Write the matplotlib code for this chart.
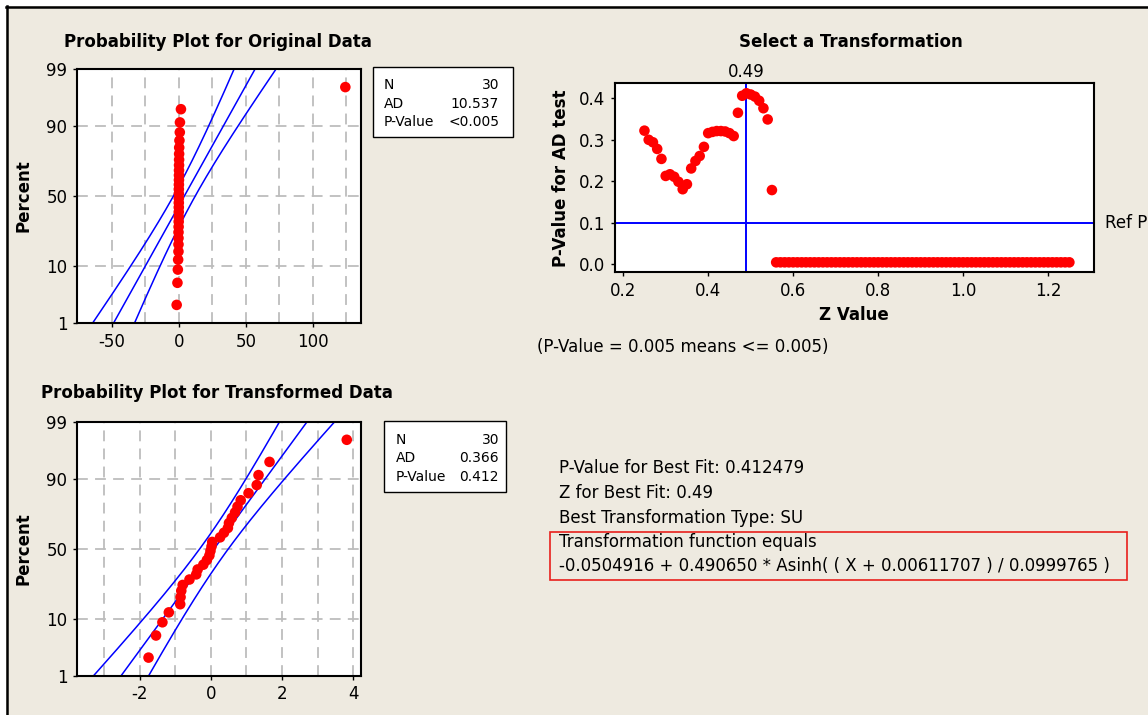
import matplotlib
matplotlib.use('Agg')
import matplotlib.pyplot as plt
import numpy as np
from statistics import NormalDist
from matplotlib.patches import Rectangle
from matplotlib.lines import Line2D

W, H, DPI = 1148, 715, 100

# ---------------- data ----------------
original_data = [-1.60, -1.02, -0.72, -0.50, -0.26, -0.25, -0.25, -0.23, -0.15, -0.09,
                 -0.08, -0.04, -0.02, -0.01, 0.00, 0.00, 0.01, 0.06, 0.10, 0.12,
                 0.14, 0.17, 0.21, 0.24, 0.29, 0.47, 0.74, 0.84, 1.59, 124.3]
transformed_data = [-1.75, -1.54, -1.36, -1.18, -0.86, -0.85, -0.83, -0.79, -0.60, -0.41,
                    -0.37, -0.21, -0.11, -0.04, -0.01, 0.02, 0.04, 0.26, 0.37, 0.48,
                    0.51, 0.59, 0.68, 0.75, 0.84, 1.06, 1.29, 1.34, 1.65, 3.82]

z_values = [0.25, 0.26, 0.27, 0.28, 0.29, 0.30, 0.31, 0.32, 0.33, 0.34,
            0.35, 0.36, 0.37, 0.38, 0.39, 0.40, 0.41, 0.42, 0.43, 0.44,
            0.45, 0.46, 0.47, 0.48, 0.49, 0.50, 0.51, 0.52, 0.53, 0.54,
            0.55, 0.56, 0.57, 0.58, 0.59, 0.60, 0.61, 0.62, 0.63, 0.64,
            0.65, 0.66, 0.67, 0.68, 0.69, 0.70, 0.71, 0.72, 0.73, 0.74,
            0.75, 0.76, 0.77, 0.78, 0.79, 0.80, 0.81, 0.82, 0.83, 0.84,
            0.85, 0.86, 0.87, 0.88, 0.89, 0.90, 0.91, 0.92, 0.93, 0.94,
            0.95, 0.96, 0.97, 0.98, 0.99, 1.00, 1.01, 1.02, 1.03, 1.04,
            1.05, 1.06, 1.07, 1.08, 1.09, 1.10, 1.11, 1.12, 1.13, 1.14,
            1.15, 1.16, 1.17, 1.18, 1.19, 1.20, 1.21, 1.22, 1.23, 1.24,
            1.25]
p_values = [0.322, 0.300, 0.294, 0.278, 0.254, 0.213, 0.217, 0.211, 0.199, 0.181,
            0.193, 0.231, 0.249, 0.261, 0.283, 0.316, 0.319, 0.321, 0.321, 0.320,
            0.316, 0.309, 0.365, 0.406, 0.412, 0.409, 0.404, 0.394, 0.376, 0.349,
            0.179, 0.005, 0.005, 0.005, 0.005, 0.005, 0.005, 0.005, 0.005, 0.005,
            0.005, 0.005, 0.005, 0.005, 0.005, 0.005, 0.005, 0.005, 0.005, 0.005,
            0.005, 0.005, 0.005, 0.005, 0.005, 0.005, 0.005, 0.005, 0.005, 0.005,
            0.005, 0.005, 0.005, 0.005, 0.005, 0.005, 0.005, 0.005, 0.005, 0.005,
            0.005, 0.005, 0.005, 0.005, 0.005, 0.005, 0.005, 0.005, 0.005, 0.005,
            0.005, 0.005, 0.005, 0.005, 0.005, 0.005, 0.005, 0.005, 0.005, 0.005,
            0.005, 0.005, 0.005, 0.005, 0.005, 0.005, 0.005, 0.005, 0.005, 0.005,
            0.005]
best_z = 0.49
ref_p = 0.1

pct_ticks = [1, 10, 50, 90, 99]
orig_xticks = [-50, 0, 50, 100]
orig_xgrid = [-50, -25, 0, 25, 50, 75, 100, 125]
trans_xticks = [-2, 0, 2, 4]
trans_xgrid = [-3, -2, -1, 0, 1, 2, 3, 4]
z_xticks = [0.2, 0.4, 0.6, 0.8, 1.0, 1.2]
z_yticks = [0.0, 0.1, 0.2, 0.3, 0.4]

orig_stats = [("N", "30"), ("AD", "10.537"), ("P-Value", "<0.005")]
trans_stats = [("N", "30"), ("AD", "0.366"), ("P-Value", "0.412")]

info_lines = ["P-Value for Best Fit: 0.412479",
              "Z for Best Fit: 0.49",
              "Best Transformation Type: SU",
              "Transformation function equals",
              "-0.0504916 + 0.490650 * Asinh( ( X + 0.00611707 ) / 0.0999765 )"]

# ---------------- style ----------------
BG = '#EEEAE0'
RED = '#FF0000'
BLUE = '#0000FF'
GRID = '#BDBDBD'
plt.rcParams['font.family'] = ['DejaVu Sans']

fig = plt.figure(figsize=(W / DPI, H / DPI), dpi=DPI, facecolor='white')


def fx(x):
    return x / W


def fy(y):
    return 1 - y / H


def rect(x0, y0, x1, y1):
    return [x0 / W, 1 - y1 / H, (x1 - x0) / W, (y1 - y0) / H]


# beige panel with black top/left frame
fig.add_artist(Rectangle((fx(6), 0), 1 - fx(6), fy(6), transform=fig.transFigure,
                         facecolor=BG, edgecolor='none', zorder=-10))
fig.add_artist(Line2D([fx(6), 1], [fy(6.5), fy(6.5)], transform=fig.transFigure,
                      color='black', lw=1.8))
fig.add_artist(Line2D([fx(6.5), fx(6.5)], [0, fy(6)], transform=fig.transFigure,
                      color='black', lw=1.8))

nd = NormalDist()


def style_axes(ax):
    ax.set_facecolor('white')
    for s in ax.spines.values():
        s.set_linewidth(1.5)
        s.set_color('black')
    ax.tick_params(labelsize=12, length=3, width=1, pad=4, color='black')


def prob_plot(ax, data, xlim, xticks, xgrid):
    data = np.sort(np.asarray(data, dtype=float))
    n = len(data)
    ranks = (np.arange(1, n + 1) - 0.3) / (n + 0.4)
    zq = np.array([nd.inv_cdf(r) for r in ranks])
    mu = data.mean()
    sd = data.std(ddof=1)
    zz = np.linspace(-3, 3, 400)
    fit = mu + zz * sd
    half = 1.96 * sd * np.sqrt((1 + zz ** 2 / 2) / n)
    ylo, yhi = nd.inv_cdf(0.01), nd.inv_cdf(0.99)
    for g in xgrid:
        ax.axvline(g, color=GRID, lw=1.3, dashes=(6, 4), zorder=0)
    for p in pct_ticks[1:-1]:
        ax.axhline(nd.inv_cdf(p / 100), color=GRID, lw=1.3, dashes=(6, 4), zorder=0)
    for line in (fit - half, fit, fit + half):
        ax.plot(line, zz, color=BLUE, lw=1.1, zorder=2)
    ax.scatter(data, zq, s=58, color=RED, edgecolors='none', zorder=3)
    ax.set_xlim(*xlim)
    ax.set_ylim(ylo, yhi)
    ax.set_xticks(xticks)
    ax.set_xticklabels([str(t) for t in xticks])
    ax.set_yticks([nd.inv_cdf(p / 100) for p in pct_ticks])
    ax.set_yticklabels([str(p) for p in pct_ticks])
    ax.set_ylabel('Percent', fontsize=12, fontweight='bold', labelpad=10)
    style_axes(ax)


def stats_box(x0, y0, x1, y1, rows, lab_x, val_x, ys):
    fig.add_artist(Rectangle((fx(x0), fy(y1)), (x1 - x0) / W, (y1 - y0) / H,
                             transform=fig.transFigure, facecolor='white',
                             edgecolor='black', lw=1.0))
    for (lab, val), y in zip(rows, ys):
        fig.text(fx(lab_x), fy(y), lab, fontsize=10, ha='left', va='center')
        fig.text(fx(val_x), fy(y), val, fontsize=10, ha='right', va='center')


# ---- top-left: original data ----
ax1 = fig.add_axes(rect(77, 69, 361, 323))
prob_plot(ax1, original_data, (-76, 136), orig_xticks, orig_xgrid)
fig.text(fx(218), fy(42), 'Probability Plot for Original Data', fontsize=12,
         fontweight='bold', ha='center', va='center')
stats_box(373, 67, 513, 137, orig_stats, 384, 499, [85, 103.5, 122])

# ---- bottom-left: transformed data ----
ax2 = fig.add_axes(rect(77, 421.7, 361, 675.7))
prob_plot(ax2, transformed_data, (-3.76, 4.22), trans_xticks, trans_xgrid)
fig.text(fx(217), fy(393), 'Probability Plot for Transformed Data', fontsize=12,
         fontweight='bold', ha='center', va='center')
stats_box(384, 421, 506, 492, trans_stats, 396, 499, [440, 458.5, 477])

# ---- top-right: select a transformation ----
ax3 = fig.add_axes(rect(614.7, 83.3, 1093.6, 272.3))
ax3.axvline(best_z, color=BLUE, lw=1.4, zorder=1)
ax3.axhline(ref_p, color=BLUE, lw=1.4, zorder=1)
ax3.scatter(z_values, p_values, s=58, color=RED, edgecolors='none', zorder=3)
ax3.set_xlim(0.18, 1.307)
ax3.set_ylim(-0.019, 0.436)
ax3.set_xticks(z_xticks)
ax3.set_xticklabels(['%.1f' % t for t in z_xticks])
ax3.set_yticks(z_yticks)
ax3.set_yticklabels(['%.1f' % t for t in z_yticks])
ax3.set_xlabel('Z Value', fontsize=12, fontweight='bold', labelpad=4)
ax3.set_ylabel('P-Value for AD test', fontsize=12, fontweight='bold', labelpad=6)
style_axes(ax3)
fig.text(fx(851), fy(42), 'Select a Transformation', fontsize=12,
         fontweight='bold', ha='center', va='center')
ax3.annotate('%.2f' % best_z, xy=(best_z, 1), xycoords=('data', 'axes fraction'),
             xytext=(0, 2), textcoords='offset points', ha='center', va='bottom',
             fontsize=12, annotation_clip=False)
ax3.annotate('Ref P', xy=(1, ref_p), xycoords=('axes fraction', 'data'),
             xytext=(8, 0), textcoords='offset points', ha='left', va='center',
             fontsize=12, annotation_clip=False)
fig.text(fx(537), fy(347), '(P-Value = 0.005 means <= 0.005)', fontsize=12,
         ha='left', va='center')

# ---- info text block ----
info_y = [468, 493, 518, 542, 566]
for s, y in zip(info_lines, info_y):
    fig.text(fx(559), fy(y), s, fontsize=12, ha='left', va='center')
fig.add_artist(Rectangle((fx(550), fy(580)), (1127 - 550) / W, (580 - 532) / H,
                         transform=fig.transFigure, facecolor='none',
                         edgecolor='#E8201C', lw=1.2))

fig.savefig('out.png', dpi=DPI, facecolor=fig.get_facecolor())
